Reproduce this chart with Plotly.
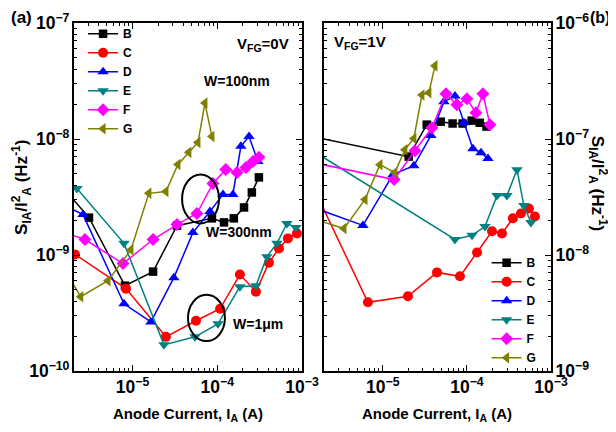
import plotly.graph_objects as go

# ---------------- data: panel (a)  V_FG = 0 V ----------------
a_B_x = [1.58e-6, 3.07e-6, 8.15e-6, 1.75e-5, 3.35e-5, 8.65e-5, 1.20e-4, 1.57e-4, 2.07e-4, 2.56e-4, 3.10e-4]
a_B_y = [3.67e-9, 2.10e-9, 5.44e-10, 7.19e-10, 1.79e-9, 2.07e-9, 1.91e-9, 2.07e-9, 2.57e-9, 3.46e-9, 4.67e-9]

a_C_x = [2.10e-6, 8.38e-6, 2.48e-5, 5.61e-5, 1.08e-4, 1.85e-4, 2.86e-4, 4.07e-4, 5.35e-4, 6.82e-4, 8.71e-4]
a_C_y = [1.01e-9, 5.13e-10, 1.97e-10, 2.71e-10, 3.44e-10, 6.78e-10, 4.83e-10, 8.59e-10, 1.14e-9, 1.39e-9, 1.53e-9]

a_D_x = [1.60e-6, 2.61e-6, 7.94e-6, 1.65e-5, 3.08e-5, 5.16e-5, 8.20e-5, 1.17e-4, 1.53e-4, 1.90e-4, 2.37e-4, 3.02e-4]
a_D_y = [2.67e-9, 2.23e-9, 3.80e-10, 2.65e-10, 6.38e-10, 1.56e-9, 2.37e-9, 3.33e-9, 3.33e-9, 8.65e-9, 1.05e-8, 6.41e-9]

a_E_x = [2.21e-6, 7.94e-6, 2.35e-5, 5.46e-5, 1.02e-4, 1.85e-4, 2.86e-4, 3.85e-4, 5.06e-4, 6.64e-4, 8.47e-4]
a_E_y = [3.75e-9, 1.26e-9, 1.68e-10, 1.97e-10, 2.55e-10, 5.33e-10, 5.44e-10, 9.68e-10, 1.26e-9, 1.87e-9, 1.73e-9]

a_F_x = [1.60e-6, 2.75e-6, 7.73e-6, 1.75e-5, 3.35e-5, 5.75e-5, 8.89e-5, 1.26e-4, 1.71e-4, 2.18e-4, 2.64e-4, 3.10e-4]
a_F_y = [1.56e-9, 1.36e-9, 8.43e-10, 1.36e-9, 1.83e-9, 2.28e-9, 4.14e-9, 5.47e-9, 5.15e-9, 5.69e-9, 6.41e-9, 6.95e-9]

a_G_x = [1.58e-6, 2.45e-6, 5.14e-6, 9.59e-6, 1.56e-5, 2.48e-5, 3.44e-5, 4.63e-5, 5.92e-5, 7.16e-5, 8.65e-5]
a_G_y = [7.48e-10, 4.37e-10, 6.01e-10, 1.11e-9, 3.40e-9, 3.53e-9, 6.04e-9, 7.67e-9, 9.35e-9, 2.04e-8, 1.05e-8]

# ---------------- data: panel (b)  V_FG = 1 V ----------------
b_B_x = [1.01e-6, 2.03e-5, 3.33e-5, 4.88e-5, 6.76e-5, 8.89e-5, 1.14e-4, 1.42e-4, 1.71e-4]
b_B_y = [1.11e-7, 7.05e-8, 1.33e-7, 1.41e-7, 1.36e-7, 1.36e-7, 1.44e-7, 1.38e-7, 1.28e-7]

b_C_x = [1.60e-6, 6.65e-6, 1.99e-5, 4.41e-5, 8.26e-5, 1.32e-4, 1.99e-4, 2.61e-4, 3.52e-4, 4.39e-4, 5.46e-4, 6.44e-4]
b_C_y = [3.45e-8, 3.91e-9, 4.41e-9, 7.08e-9, 6.55e-9, 1.05e-8, 1.60e-8, 1.53e-8, 2.07e-8, 2.28e-8, 2.52e-8, 2.15e-8]

b_D_x = [1.60e-6, 5.81e-6, 1.32e-5, 2.34e-5, 3.73e-5, 5.33e-5, 7.21e-5, 9.23e-5, 1.18e-4, 1.47e-4, 1.78e-4]
b_D_y = [2.52e-8, 1.80e-8, 4.93e-8, 5.89e-8, 1.07e-7, 2.09e-7, 2.35e-7, 1.38e-7, 8.26e-8, 7.62e-8, 6.78e-8]

b_E_x = [1.60e-6, 7.21e-5, 1.15e-4, 1.64e-4, 2.28e-4, 2.99e-4, 3.94e-4, 4.76e-4, 5.77e-4]
b_E_y = [7.62e-8, 1.36e-8, 1.48e-8, 1.76e-8, 3.25e-8, 3.25e-8, 5.44e-8, 2.67e-8, 1.91e-8]

b_F_x = [1.60e-6, 1.36e-5, 2.41e-5, 3.84e-5, 5.64e-5, 7.60e-5, 1.00e-4, 1.28e-4, 1.55e-4, 1.88e-4]
b_F_y = [6.19e-8, 4.47e-8, 7.93e-8, 1.25e-7, 2.45e-7, 1.97e-7, 2.22e-7, 1.68e-7, 2.45e-7, 1.33e-7]

b_G_x = [1.60e-6, 3.45e-6, 6.14e-6, 9.25e-6, 1.39e-5, 1.83e-5, 2.34e-5, 2.92e-5, 3.53e-5, 4.17e-5]
b_G_y = [2.02e-8, 1.69e-8, 3.01e-8, 6.01e-8, 5.13e-8, 8.09e-8, 1.01e-7, 2.40e-7, 2.50e-7, 4.27e-7]

names = ["B", "C", "D", "E", "F", "G"]
symbols = ["square", "circle", "triangle-up", "triangle-down", "diamond", "triangle-left"]
colors = ["#000000", "#FF0000", "#0000FF", "#008080", "#FF00FF", "#808000"]
panel_a = [(a_B_x, a_B_y), (a_C_x, a_C_y), (a_D_x, a_D_y), (a_E_x, a_E_y), (a_F_x, a_F_y), (a_G_x, a_G_y)]
panel_b = [(b_B_x, b_B_y), (b_C_x, b_C_y), (b_D_x, b_D_y), (b_E_x, b_E_y), (b_F_x, b_F_y), (b_G_x, b_G_y)]

FONT = "Arial, Liberation Sans, Helvetica, sans-serif"

fig = go.Figure()
for i, name in enumerate(names):
    for (xs, ys), xa, ya, lg in ((panel_a[i], "x", "y", "legend"), (panel_b[i], "x2", "y2", "legend2")):
        fig.add_trace(go.Scatter(
            x=xs, y=ys, mode="lines+markers", name=name, legend=lg,
            xaxis=xa, yaxis=ya,
            line=dict(color=colors[i], width=1.5),
            marker=dict(symbol=symbols[i], size=10 if symbols[i] != "square" else 8.5, color=colors[i]),
        ))

axis_common = dict(
    type="log", showline=True, linecolor="black", linewidth=1.5, mirror="ticks",
    ticks="inside", ticklen=6, tickwidth=1.3, tickcolor="black", automargin=False,
    showgrid=False, zeroline=False, exponentformat="power", dtick=1,
    tickfont=dict(family=FONT, size=14, color="black", weight="bold"),
    minor=dict(ticks="inside", ticklen=3, tickwidth=1, tickcolor="black", showgrid=False, dtick="D1"),
)

# page has an 8px body margin, so the figure is 8px smaller than the window
fig.update_layout(
    width=608, height=424,
    margin=dict(l=66, r=65, t=15, b=61, autoexpand=False),
    paper_bgcolor="white", plot_bgcolor="white",
    font=dict(family=FONT, color="black"),
    xaxis=dict(axis_common, domain=[0, 0.478], range=[-5.69, -3], anchor="y"),
    yaxis=dict(axis_common, domain=[0, 1], range=[-10, -7], anchor="x"),
    xaxis2=dict(axis_common, domain=[0.524, 1], range=[-5.70, -3], anchor="y2"),
    yaxis2=dict(axis_common, domain=[0, 1], range=[-9, -6], anchor="x2", side="right"),
    legend=dict(x=0.019, y=1.011, xanchor="left", yanchor="top", bgcolor="rgba(0,0,0,0)",
                font=dict(family=FONT, size=12, color="black", weight="bold"), tracegroupgap=0),
    legend2=dict(x=0.865, y=0.353, xanchor="left", yanchor="top", bgcolor="rgba(0,0,0,0)",
                 font=dict(family=FONT, size=12, color="black", weight="bold"), tracegroupgap=0),
)

bold = dict(family=FONT, color="black", weight="bold")
ann = [
    dict(text="V<sub>FG</sub>=0V", xref="x domain", yref="y domain", x=0.829, y=0.937, font=dict(bold, size=15)),
    dict(text="W=100nm", xref="x domain", yref="y domain", x=0.715, y=0.833, font=dict(bold, size=14)),
    dict(text="W=300nm", xref="x domain", yref="y domain", x=0.724, y=0.399, font=dict(bold, size=14)),
    dict(text="W=1\u03bcm", xref="x domain", yref="y domain", x=0.807, y=0.135, font=dict(bold, size=14)),
    dict(text="V<sub>FG</sub>=1V", xref="x2 domain", yref="y2 domain", x=0.159, y=0.943, font=dict(bold, size=15)),
    dict(text="(a)", xref="paper", yref="paper", x=-0.110, y=1.017, font=dict(bold, size=17)),
    dict(text="(b)", xref="paper", yref="paper", x=1.102, y=1.017, font=dict(bold, size=16)),
    dict(text="Anode Current, I<sub>A</sub> (A)", xref="x domain", yref="paper", x=0.5, y=-0.126, font=dict(bold, size=15)),
    dict(text="Anode Current, I<sub>A</sub> (A)", xref="x2 domain", yref="paper", x=0.5, y=-0.126, font=dict(bold, size=15)),
    dict(text="S<sub>IA</sub>/I<sup>2</sup><sub>A</sub> (Hz<sup>-1</sup>)", xref="paper", yref="paper",
         x=-0.109, y=0.526, textangle=-90, font=dict(bold, size=17)),
    dict(text="S<sub>IA</sub>/I<sup>2</sup><sub>A</sub> (Hz<sup>-1</sup>)", xref="paper", yref="paper",
         x=1.099, y=0.54, textangle=90, font=dict(bold, size=17)),
]
for a in ann:
    a.update(showarrow=False, xanchor="center", yanchor="middle")
fig.update_layout(annotations=ann)

fig.update_layout(shapes=[
    dict(type="circle", xref="x domain", yref="y domain", x0=0.474, x1=0.636, y0=0.424, y1=0.565,
         line=dict(color="black", width=2)),
    dict(type="circle", xref="x domain", yref="y domain", x0=0.500, x1=0.662, y0=0.086, y1=0.219,
         line=dict(color="black", width=2)),
])

fig.write_html("out.html")
